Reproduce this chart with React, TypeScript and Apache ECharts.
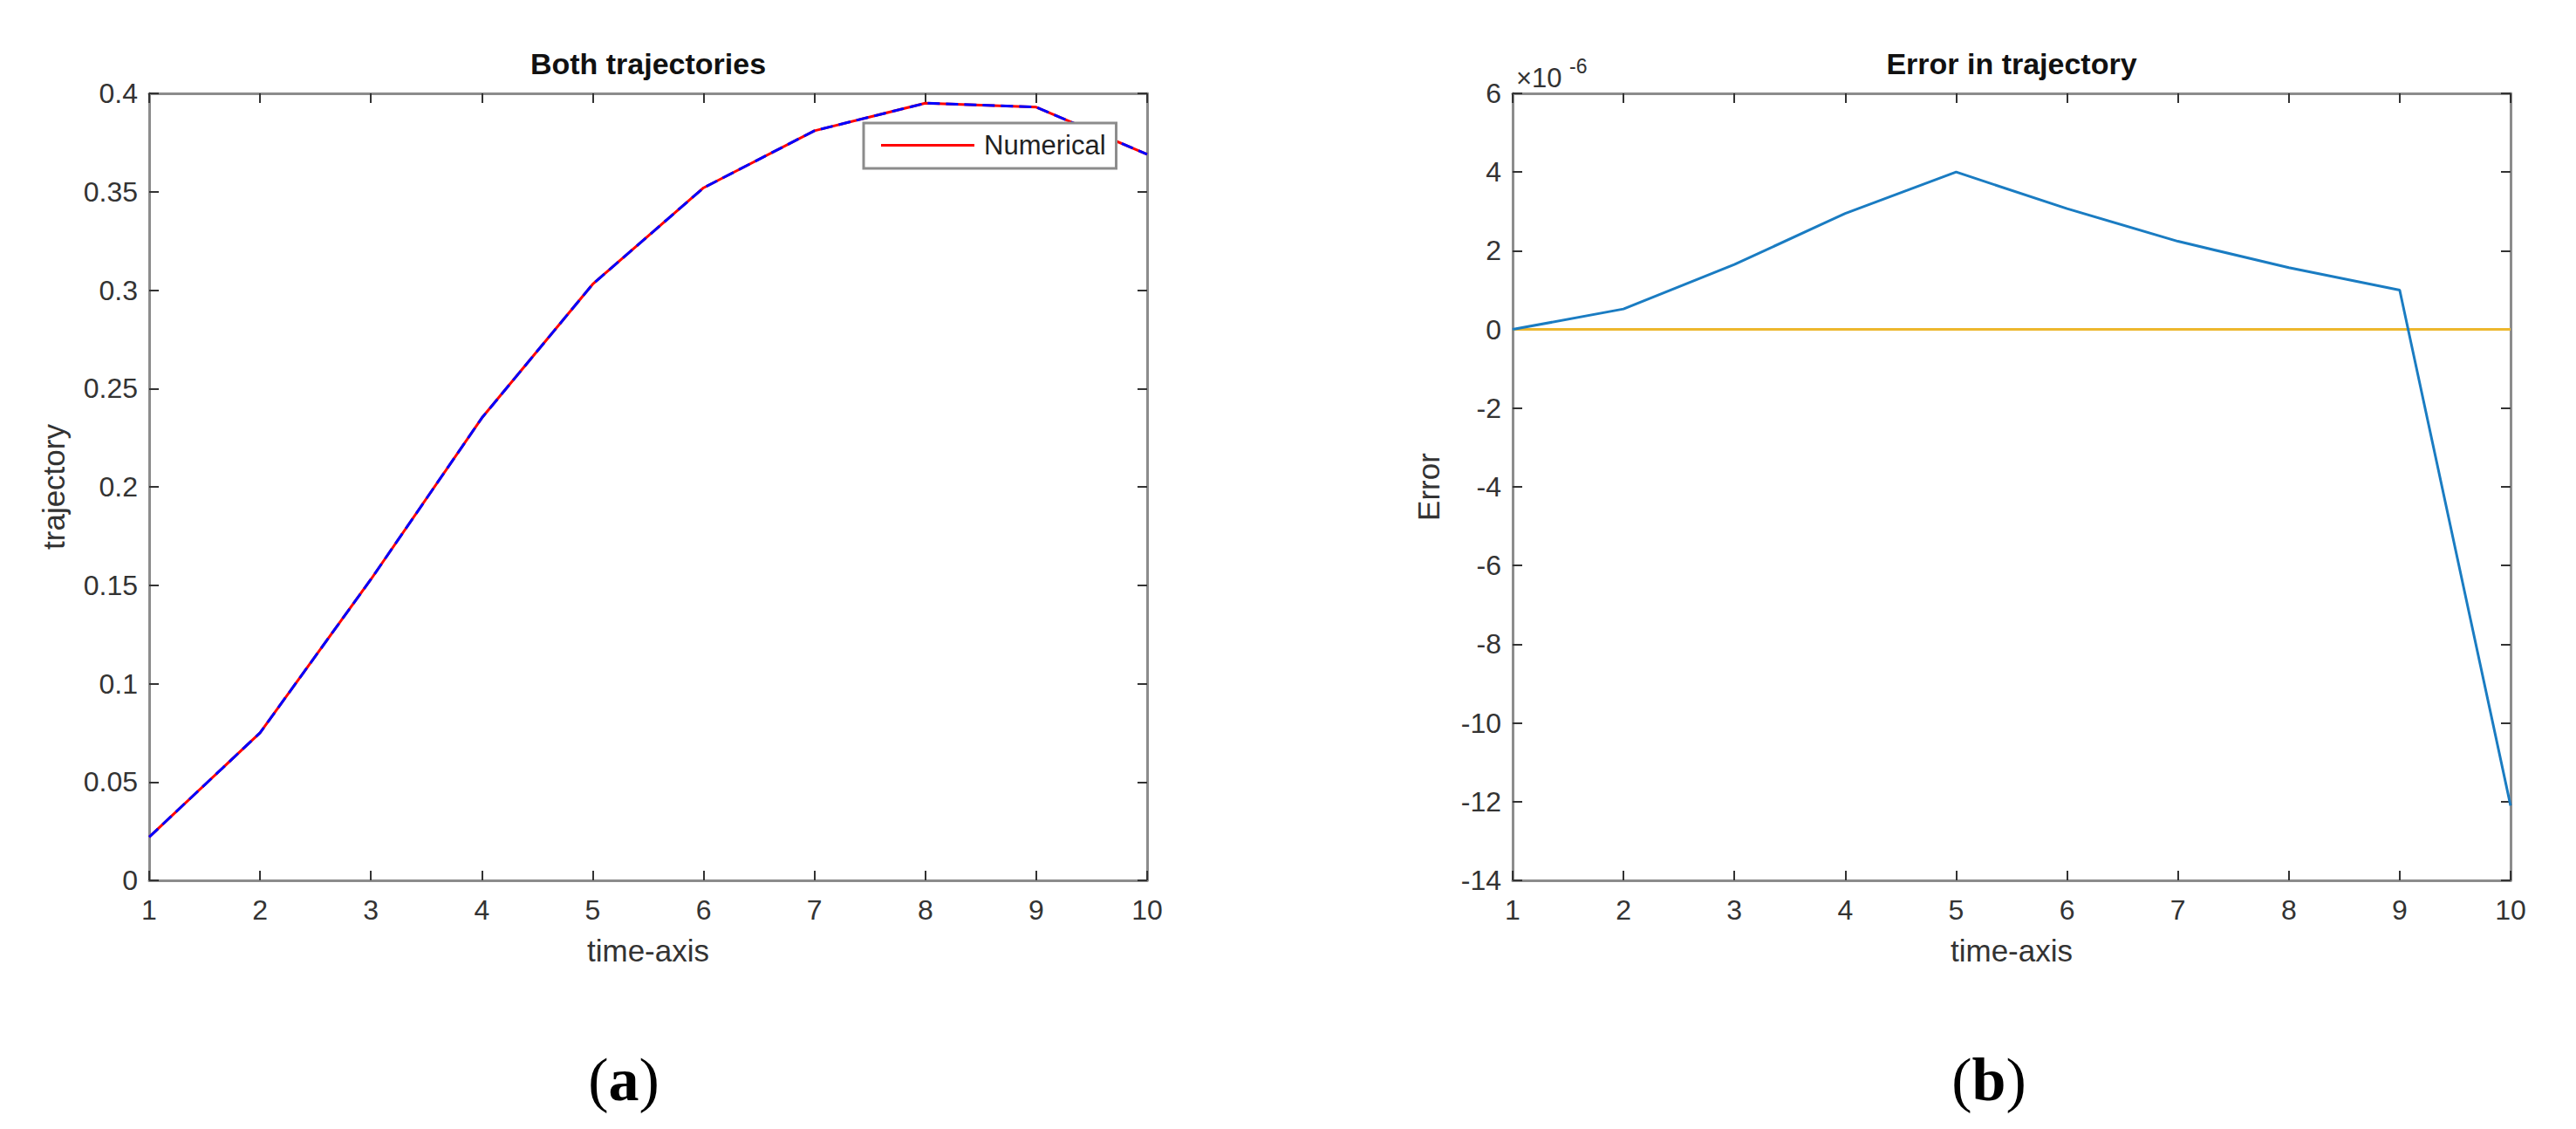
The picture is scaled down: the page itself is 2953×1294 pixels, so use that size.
import React, { useEffect, useRef } from "react";
import * as echarts from "echarts";

// ---- data ----
const timeAxis = [1, 2, 3, 4, 5, 6, 7, 8, 9, 10];
const numericalTrajectory = [0.022, 0.075, 0.153, 0.235, 0.303, 0.352, 0.381, 0.395, 0.393, 0.369];
const exactTrajectory = [0.022, 0.075, 0.153, 0.235, 0.303, 0.352, 0.381, 0.395, 0.393, 0.369];
// error in units of 1e-6
const trajectoryError = [0, 0.52, 1.65, 2.95, 4.0, 3.07, 2.24, 1.57, 1.0, -12.1];
const zeroReference = [0, 0, 0, 0, 0, 0, 0, 0, 0, 0];

const leftTitle = "Both trajectories";
const rightTitle = "Error in trajectory";
const xName = "time-axis";
const leftYName = "trajectory";
const rightYName = "Error";

const FONT = "'Liberation Sans', Arial, Helvetica, sans-serif";
const SERIF = "'Liberation Serif', 'DejaVu Serif', serif";
const BOX = "#8c8c8c";
const TICK = "#333";
const LABEL = "#333";
const TICK_FS = 32;
const NAME_FS = 35;
const TITLE_FS = 34;

function axisBase(gridIndex: number, position: string, min: number, max: number, interval: number, showLabel: boolean, fmt?: (v: number) => string) {
  return {
    type: "value",
    gridIndex,
    position,
    min,
    max,
    interval,
    axisLine: { show: true, onZero: false, lineStyle: { color: BOX, width: 3 } },
    axisTick: { show: true, inside: true, length: 11, lineStyle: { color: TICK, width: 2 } },
    axisLabel: {
      show: showLabel,
      color: LABEL,
      fontFamily: FONT,
      fontSize: TICK_FS,
      margin: 13,
      formatter: fmt,
      showMinLabel: true,
      showMaxLabel: true,
    },
    splitLine: { show: false },
  };
}

function captionText(x: number, letter: string) {
  return {
    type: "text",
    x,
    y: 1237,
    style: {
      text: "{p|(}{b|" + letter + "}{p|)}",
      align: "center",
      verticalAlign: "middle",
      rich: {
        p: { fontFamily: SERIF, fontSize: 70, fill: "#000" },
        b: { fontFamily: SERIF, fontSize: 70, fontWeight: "bold", fill: "#000" },
      },
    },
  };
}

export default function App() {
  const ref = useRef<HTMLDivElement>(null);
  useEffect(() => {
    if (!ref.current) return;
    const chart = echarts.init(ref.current, null, { renderer: "svg" });
    const fmt2 = (v: number) => String(parseFloat(v.toFixed(2)));
    const fmtInt = (v: number) => String(Math.round(v));
    const nameStyle = { color: LABEL, fontFamily: FONT, fontSize: NAME_FS };

    const xBottom0: any = axisBase(0, "bottom", 1, 10, 1, true, fmtInt);
    xBottom0.axisLabel.margin = 18;
    xBottom0.name = xName;
    xBottom0.nameLocation = "middle";
    xBottom0.nameGap = 63;
    xBottom0.nameTextStyle = nameStyle;
    const xTop0 = axisBase(0, "top", 1, 10, 1, false);
    const xBottom1: any = axisBase(1, "bottom", 1, 10, 1, true, fmtInt);
    xBottom1.axisLabel.margin = 18;
    xBottom1.name = xName;
    xBottom1.nameLocation = "middle";
    xBottom1.nameGap = 63;
    xBottom1.nameTextStyle = nameStyle;
    const xTop1 = axisBase(1, "top", 1, 10, 1, false);

    const yLeft0: any = axisBase(0, "left", 0, 0.4, 0.05, true, fmt2);
    yLeft0.name = leftYName;
    yLeft0.nameLocation = "middle";
    yLeft0.nameRotate = 90;
    yLeft0.nameGap = 92;
    yLeft0.nameTextStyle = nameStyle;
    const yRight0 = axisBase(0, "right", 0, 0.4, 0.05, false);
    const yLeft1: any = axisBase(1, "left", -14, 6, 2, true, fmtInt);
    yLeft1.name = rightYName;
    yLeft1.nameLocation = "middle";
    yLeft1.nameRotate = 90;
    yLeft1.nameGap = 79;
    yLeft1.nameTextStyle = nameStyle;
    const yRight1 = axisBase(1, "right", -14, 6, 2, false);

    const option: any = {
      animation: false,
      backgroundColor: "#fff",
      textStyle: { fontFamily: FONT },
      grid: [
        { left: 171, top: 107, width: 1144, height: 902, containLabel: false },
        { left: 1734, top: 107, width: 1144, height: 902, containLabel: false },
      ],
      xAxis: [xBottom0, xTop0, xBottom1, xTop1],
      yAxis: [yLeft0, yRight0, yLeft1, yRight1],
      legend: {
        data: ["Numerical"],
        left: 990,
        top: 141,
        icon: "rect",
        itemWidth: 107,
        itemHeight: 3,
        itemGap: 0,
        padding: [10, 12, 11, 20],
        borderColor: BOX,
        borderWidth: 3,
        backgroundColor: "#fff",
        textStyle: { fontSize: 31, color: "#222", fontFamily: FONT, padding: [0, 0, 0, 6] },
      },
      series: [
        {
          type: "line",
          name: "Numerical",
          xAxisIndex: 0,
          yAxisIndex: 0,
          data: timeAxis.map((t, i) => [t, numericalTrajectory[i]]),
          symbol: "none",
          showSymbol: false,
          lineStyle: { color: "#ff0000", width: 3 },
          itemStyle: { color: "#ff0000" },
          z: 2,
        },
        {
          type: "line",
          name: "Exact",
          xAxisIndex: 0,
          yAxisIndex: 0,
          data: timeAxis.map((t, i) => [t, exactTrajectory[i]]),
          symbol: "none",
          showSymbol: false,
          lineStyle: { color: "#0000ff", width: 3, type: [14, 7] },
          itemStyle: { color: "#0000ff" },
          z: 3,
        },
        {
          type: "line",
          name: "Error",
          xAxisIndex: 2,
          yAxisIndex: 2,
          data: timeAxis.map((t, i) => [t, trajectoryError[i]]),
          symbol: "none",
          showSymbol: false,
          lineStyle: { color: "#1a7cc2", width: 3 },
          itemStyle: { color: "#1a7cc2" },
          z: 3,
        },
        {
          type: "line",
          name: "Zero",
          xAxisIndex: 2,
          yAxisIndex: 2,
          data: timeAxis.map((t, i) => [t, zeroReference[i]]),
          symbol: "none",
          showSymbol: false,
          lineStyle: { color: "#EDB72E", width: 3 },
          itemStyle: { color: "#EDB72E" },
          z: 2,
        },
      ],
      graphic: [
        {
          type: "text",
          x: 743,
          y: 73,
          style: { text: leftTitle, fontFamily: FONT, fontSize: TITLE_FS, fontWeight: "bold", fill: "#111", align: "center", verticalAlign: "middle" },
        },
        {
          type: "text",
          x: 2306,
          y: 73,
          style: { text: rightTitle, fontFamily: FONT, fontSize: TITLE_FS, fontWeight: "bold", fill: "#111", align: "center", verticalAlign: "middle" },
        },
        {
          type: "text",
          x: 1738,
          y: 89,
          style: { text: "×10", fontFamily: FONT, fontSize: 31, fill: LABEL, align: "left", verticalAlign: "middle" },
        },
        {
          type: "text",
          x: 1799,
          y: 76,
          style: { text: "-6", fontFamily: FONT, fontSize: 23, fill: LABEL, align: "left", verticalAlign: "middle" },
        },
        captionText(715, "a"),
        captionText(2280, "b"),
      ],
    };
    chart.setOption(option);
    return () => chart.dispose();
  }, []);
  return (
    <div
      ref={ref}
      style={{ position: "fixed", left: 0, top: 0, width: 2953, height: 1294, background: "#fff" }}
    />
  );
}
